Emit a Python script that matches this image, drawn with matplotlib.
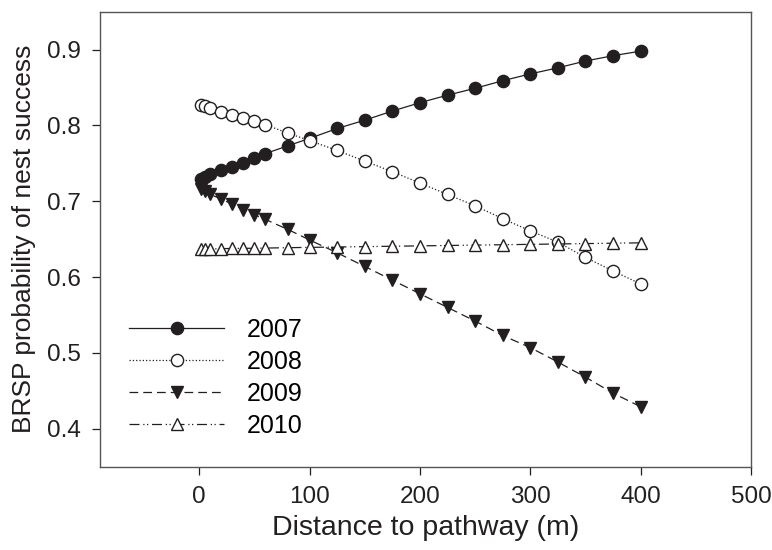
import numpy as np
import matplotlib.pyplot as plt

plt.rcParams['font.family'] = ['Liberation Sans', 'DejaVu Sans']

# distance to pathway (m)
dist = [2, 5, 10, 20, 30, 40, 50, 60, 80, 100, 125, 150, 175, 200,
        225, 250, 275, 300, 325, 350, 375, 400]

y2007 = [0.729, 0.732, 0.736, 0.741, 0.745, 0.751, 0.757, 0.763, 0.773, 0.783,
         0.796, 0.807, 0.819, 0.830, 0.840, 0.849, 0.859, 0.868, 0.876, 0.885,
         0.892, 0.898]
y2008 = [0.827, 0.825, 0.823, 0.818, 0.814, 0.810, 0.806, 0.801, 0.790, 0.780,
         0.767, 0.753, 0.739, 0.724, 0.709, 0.694, 0.677, 0.661, 0.646, 0.626,
         0.608, 0.591]
y2009 = [0.716, 0.714, 0.709, 0.703, 0.696, 0.689, 0.682, 0.676, 0.663, 0.649,
         0.632, 0.614, 0.596, 0.578, 0.560, 0.542, 0.523, 0.507, 0.488, 0.468,
         0.447, 0.429]
y2010 = [0.637, 0.637, 0.637, 0.6375, 0.6378, 0.638, 0.638, 0.6383, 0.6388, 0.6392,
         0.6397, 0.6402, 0.6407, 0.6412, 0.6417, 0.6422, 0.6427, 0.6432, 0.6437, 0.6442,
         0.6447, 0.6452]

col = '#231f20'
fig = plt.figure(figsize=(7.72, 5.5), dpi=100)
ax = fig.add_axes([0.1295, 0.1515, 0.8433, 0.8272])

ms = 8.8
ax.plot(dist, y2007, '-', color=col, lw=0.9, marker='o', ms=ms,
        mfc=col, mec=col, label='2007')
ax.plot(dist, y2008, ':', color=col, lw=0.9, marker='o', ms=ms,
        mfc='white', mec=col, mew=1.0, label='2008')
ax.plot(dist, y2009, color=col, lw=0.9, dashes=(7, 4), marker='v', ms=ms,
        mfc=col, mec=col, label='2009')
ax.plot(dist, y2010, color=col, lw=0.9, dashes=(8, 3, 1, 2, 1, 3), marker='^', ms=ms,
        mfc='white', mec=col, mew=1.0, label='2010')

ax.set_xlim(-90, 500)
ax.set_ylim(0.35, 0.95)
ax.set_xticks([0, 100, 200, 300, 400, 500])
ax.set_yticks([0.4, 0.5, 0.6, 0.7, 0.8, 0.9])
ax.tick_params(direction='out', length=6, width=0.9, colors=col, labelsize=17.5, pad=8)
for s in ax.spines.values():
    s.set_linewidth(1.0)
    s.set_color('#555555')

ax.set_xlabel('Distance to pathway (m)', fontsize=20.5, color=col, labelpad=5)
ax.set_ylabel('BRSP probability of nest success', fontsize=19, color=col, labelpad=8)

ax.legend(loc='upper left', bbox_to_anchor=(0.045, 0.327), frameon=False,
          fontsize=18, handlelength=3.8, handletextpad=0.9, labelspacing=0.32,
          borderpad=0, borderaxespad=0)

fig.savefig('out.png', dpi=100)
